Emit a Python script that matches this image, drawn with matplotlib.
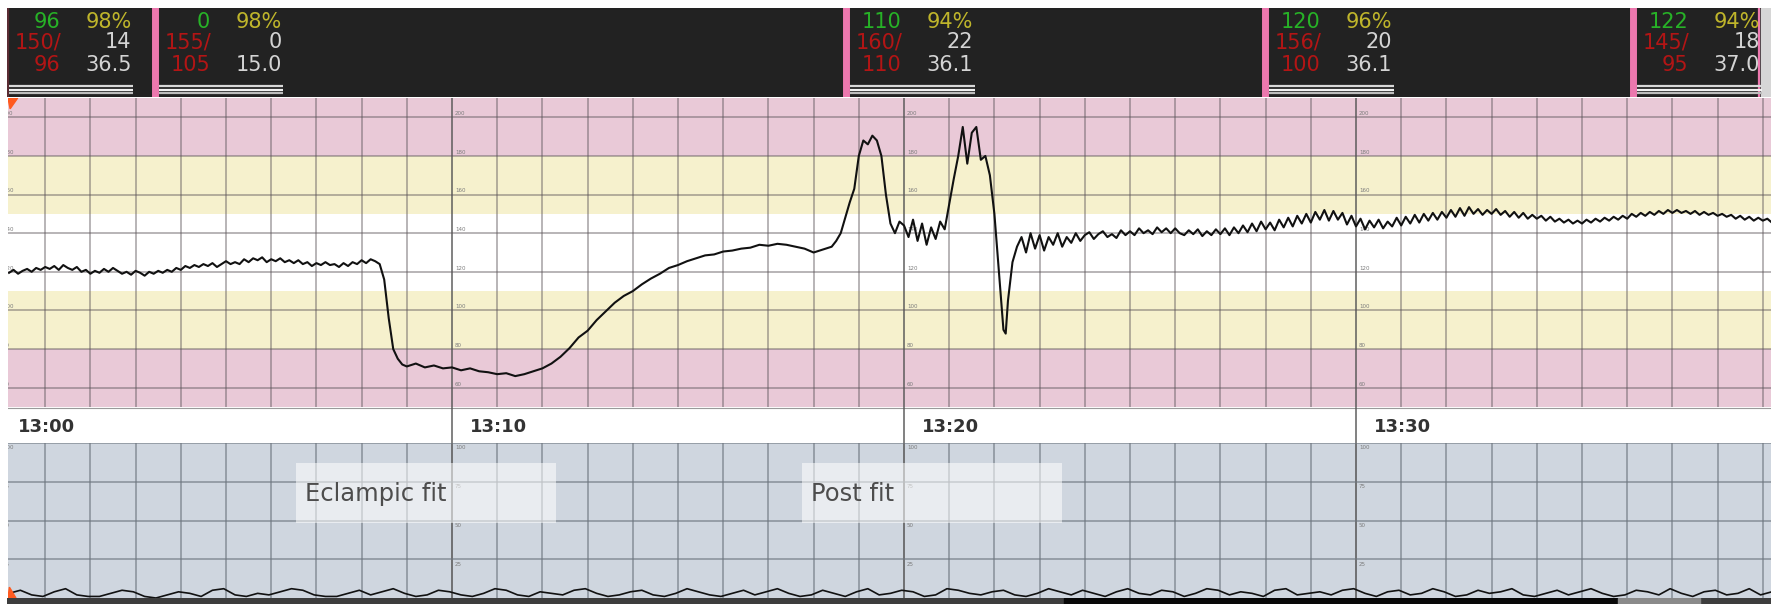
import numpy as np
import matplotlib
matplotlib.use("Agg")
import matplotlib.pyplot as plt
from matplotlib.patches import Rectangle, Polygon

# ---------------- data ----------------
# vital-sign snapshots (minutes after 13:00 where each block starts)
vital_times = [0.10, 3.42, 18.72, 27.99, 36.13]
vital_hr = ['96', '0', '110', '120', '122']
vital_spo2 = ['98%', '98%', '94%', '96%', '94%']
vital_sys = ['150/', '155/', '160/', '156/', '145/']
vital_rr = ['14', '0', '22', '20', '18']
vital_dia = ['96', '105', '110', '100', '95']
vital_temp = ['36.5', '15.0', '36.1', '36.1', '37.0']

time_ticks = [0, 10, 20, 30]
time_labels = ['13:00', '13:10', '13:20', '13:30']
fhr_ticks = [60, 80, 100, 120, 140, 160, 180, 200]
toco_ticks = [25, 50, 75, 100]

# fetal heart rate, part 1: sampled every 0.1 min from 0.2 min
fhr1_start, fhr1_step = 0.2, 0.1
fhr1_v = [119.5, 121.0, 119.0, 120.5, 121.5, 120.0, 122.0, 121.0, 122.5, 121.5,
          123.0, 121.0, 123.5, 122.0, 121.0, 122.5, 120.0, 121.0, 119.0, 120.5,
          119.5, 121.5, 120.0, 122.0, 120.5, 119.0, 120.0, 118.5, 120.5, 119.5,
          118.0, 120.0, 119.0, 120.5, 119.5, 121.0, 120.0, 122.0, 121.0, 123.0,
          122.0, 123.5, 122.5, 124.0, 123.0, 124.5, 122.5, 124.0, 125.5, 124.0,
          125.0, 124.0, 126.5, 125.0, 127.0, 126.0, 127.5, 125.0, 126.5, 125.5,
          127.0, 125.0, 126.0, 124.5, 126.0, 124.0, 125.0, 123.0, 124.5, 123.5,
          125.0, 123.5, 124.0, 122.5, 124.5, 123.0, 125.0, 124.0, 126.0, 124.5,
          126.5, 125.5]

# part 2: irregular samples around the fit (minutes, bpm)
fhr2_t = [8.4, 8.5, 8.6, 8.7, 8.8, 8.9, 9.0, 9.2, 9.4, 9.6, 9.8, 10.0, 10.2, 10.4, 10.6, 10.8, 11.0, 11.2,
          11.4, 11.6, 11.8, 12.0, 12.2, 12.4, 12.6, 12.8, 13.0, 13.2, 13.4, 13.6, 13.8, 14.0, 14.2, 14.4, 14.6, 14.8, 15.0, 15.2,
          15.4, 15.6, 15.8, 16.0, 16.2, 16.4, 16.6, 16.8, 17.0, 17.2, 17.4, 17.6, 17.8, 18.0, 18.2, 18.4, 18.5, 18.6, 18.7, 18.8,
          18.9, 19.0, 19.1, 19.2, 19.3, 19.4, 19.5, 19.6, 19.7, 19.8, 19.9, 20.0, 20.1, 20.2, 20.3, 20.4, 20.5, 20.6, 20.7, 20.8,
          20.9, 21.0, 21.1, 21.2, 21.3, 21.4, 21.5, 21.6, 21.7, 21.8, 21.9, 22.0, 22.1, 22.2, 22.25, 22.3, 22.4, 22.5, 22.6, 22.7,
          22.8, 22.9, 23.0, 23.1, 23.2, 23.3, 23.4, 23.5, 23.6, 23.7, 23.8, 23.9, 24.0]
fhr2_v = [124.0, 116.0, 96.0, 80.0, 75.0, 72.0, 71.0, 72.5, 70.5, 71.5, 70.0, 70.5, 69.0, 70.0, 68.5, 68.0, 67.0, 67.5,
          66.0, 67.0, 68.5, 70.0, 72.5, 76.0, 80.5, 86.0, 89.5, 95.0, 99.5, 104.0, 107.5, 110.0, 113.5, 116.5, 119.0, 122.0, 123.5, 125.5,
          127.0, 128.5, 129.0, 130.5, 131.0, 132.0, 132.5, 134.0, 133.5, 134.5, 134.0, 133.0, 132.0, 130.0, 131.5, 133.0, 136.0, 140.0, 148.0, 156.0,
          163.0, 180.0, 188.0, 186.0, 190.5, 188.0, 180.0, 160.0, 145.0, 140.0, 146.0, 144.0, 138.0, 147.0, 136.0, 145.0, 134.0, 143.0, 137.0, 146.0,
          142.0, 155.0, 168.0, 180.0, 195.0, 176.0, 192.0, 195.0, 178.0, 180.0, 170.0, 150.0, 120.0, 90.0, 88.0, 105.0, 125.0, 133.0, 138.0, 130.0,
          140.0, 132.0, 139.0, 131.0, 138.0, 134.0, 140.0, 133.0, 138.0, 135.0, 140.0, 136.0, 139.0]

# part 3: sampled every 0.1 min from 24.1 min
fhr3_start, fhr3_step = 24.1, 0.1
fhr3_v = [140.5, 137.0, 139.5, 141.0, 138.0, 139.5, 137.5, 141.5, 139.0, 141.0,
          139.0, 142.5, 140.0, 141.5, 139.5, 143.0, 140.5, 142.5, 140.0, 142.5,
          140.0, 139.0, 141.5, 139.5, 142.0, 138.5, 141.0, 139.0, 142.0, 139.5,
          142.5, 139.0, 143.0, 140.0, 144.0, 140.5, 145.0, 141.0, 146.0, 142.0,
          145.5, 141.5, 147.0, 143.0, 148.0, 143.5, 149.0, 145.0, 150.0, 145.5,
          151.0, 147.0, 152.0, 146.5, 151.5, 147.0, 150.5, 144.5, 149.0, 143.5,
          147.5, 142.0, 146.5, 143.0, 147.0, 142.5, 146.0, 143.5, 148.0, 144.0,
          148.5, 145.0, 149.5, 145.5, 150.0, 146.5, 150.5, 147.0, 151.0, 148.0,
          152.0, 148.5, 153.0, 149.0, 153.5, 150.0, 152.5, 149.5, 152.0, 150.0,
          152.5, 149.5, 151.5, 148.5, 151.0, 148.0, 150.5, 147.5, 149.5, 147.5,
          149.0, 146.5, 148.5, 146.0, 147.5, 145.5, 147.0, 145.0, 146.5, 145.0,
          147.0, 145.5, 147.5, 146.0, 148.0, 146.5, 148.5, 147.0, 149.0, 147.5,
          150.0, 148.5, 150.5, 149.0, 151.0, 149.5, 151.5, 150.0, 152.0, 150.5,
          152.0, 150.5, 151.5, 150.0, 151.5, 149.5, 151.0, 149.5, 150.5, 149.0,
          150.0, 148.5, 149.5, 147.5, 149.0, 147.0, 148.5, 146.5, 148.0, 146.5,
          147.5, 145.5]

# uterine activity (toco) trace, evenly sampled from 0.2 to 39.2 min
toco_v = [3, 5, 2, 1, 4, 6, 2, 1, 1, 3, 5, 4, 1, 0, 2, 4, 3, 1, 5, 6, 2, 1, 3, 2, 4, 6, 5, 2, 1, 1,
          3, 5, 2, 4, 6, 3, 1, 2, 5, 4, 2, 1, 3, 6, 5, 2, 1, 4, 3, 2, 5, 6, 3, 1, 2, 4, 5, 2, 1, 3,
          6, 4, 2, 1, 3, 5, 2, 4, 6, 3, 1, 2, 5, 3, 1, 4, 6, 2, 3, 5, 4, 1, 2, 6, 5, 3, 2, 4, 5, 2,
          1, 3, 6, 4, 2, 5, 3, 1, 4, 6, 3, 2, 5, 4, 1, 3, 6, 5, 2, 4, 3, 1, 5, 6, 2, 3, 4, 2, 5, 6,
          3, 1, 4, 5, 2, 3, 6, 4, 1, 2, 5, 3, 4, 6, 2, 1, 3, 5, 2, 4, 6, 3, 1, 2, 5, 4, 2, 6, 3, 1,
          4, 5, 2, 3, 6, 2, 4]

annot_text = ['Eclampic fit', 'Post fit']
annot_t0 = [6.55, 17.74]
annot_t1 = [12.30, 23.50]

# ---------------- layout ----------------
W, H, DPI = 1771, 604, 100
PPM = 45.2  # pixels per minute
fig = plt.figure(figsize=(W / DPI, H / DPI), dpi=DPI)
fig.patch.set_facecolor('white')


def axes_px(x0, y0, x1, y1):
    ax = fig.add_axes([x0 / W, 1 - y1 / H, (x1 - x0) / W, (y1 - y0) / H])
    ax.set_xlim(x0 / PPM, x1 / PPM)
    ax.set_xticks([]); ax.set_yticks([])
    for s in ax.spines.values():
        s.set_visible(False)
    return ax


def dx(px):
    return px / PPM


PINK = '#e9c9d7'
YEL = '#f6f1cd'
GRID = '#5b5358'
MAJ = '#555555'
LBL = '#7c7c7c'
minutes = np.arange(1, 40)

fhr_t = np.concatenate([fhr1_start + fhr1_step * np.arange(len(fhr1_v)),
                        np.array(fhr2_t),
                        fhr3_start + fhr3_step * np.arange(len(fhr3_v))])
fhr_v = np.concatenate([fhr1_v, fhr2_v, fhr3_v])

# ---- top vitals panel ----
axv = axes_px(7, 8, 1771, 97)
axv.set_facecolor('#222222')
axv.set_ylim(97, 8)
axv.axvline(dx(8), color='#5a2c33', lw=1.6)
axv.add_patch(Rectangle((dx(1761), 8), dx(10), 89, color='#d6d6d6', zorder=1))
axv.axvline(dx(1759), color='#ec78ae', lw=1.6)
for i, t in enumerate(vital_times):
    if i > 0:
        axv.axvline(t, color='#ec78ae', lw=5.0)
    lx = t + dx(55.5)
    rx = t + dx(127)
    kw = dict(fontsize=15, va='center', family='DejaVu Sans')
    axv.text(lx, 22, vital_hr[i], color='#27b227', ha='right', **kw)
    axv.text(rx, 22, vital_spo2[i], color='#bfb52b', ha='right', **kw)
    axv.text(t + dx(10), 42.5, vital_sys[i], color='#b31515', ha='left', **kw)
    axv.text(rx, 42.5, vital_rr[i], color='#d4d4d4', ha='right', **kw)
    axv.text(lx, 65, vital_dia[i], color='#b31515', ha='right', **kw)
    axv.text(rx, 65, vital_temp[i], color='#d4d4d4', ha='right', **kw)
    for yy, c in zip([86.3, 89.8, 93.3], ['#d9d9d9', '#f2f2f2', '#bdbdbd']):
        axv.plot([t + dx(4), t + dx(128.5)], [yy, yy], color=c, lw=1.6, solid_capstyle='butt')

# ---- FHR panel ----
axf = axes_px(8, 98, 1771, 407)
axf.set_ylim(50, 210)
for lo, hi, c in [(50, 80, PINK), (80, 110, YEL), (110, 150, 'white'), (150, 180, YEL), (180, 210, PINK)]:
    axf.axhspan(lo, hi, color=c, lw=0, zorder=0)
for m in minutes:
    if m % 10:
        axf.axvline(m, color=GRID, lw=1.1, alpha=0.55, zorder=1)
for m in time_ticks:
    axf.axvline(m, color=MAJ, lw=1.3, alpha=0.8, zorder=1)
for v in fhr_ticks:
    axf.axhline(v, color=GRID, lw=1.1, alpha=0.55, zorder=1)
for m in time_ticks:
    for v in fhr_ticks:
        axf.text(m + dx(3), v + 0.6, str(v), fontsize=4, color=LBL, va='bottom', ha='left', clip_on=True)
axf.plot(fhr_t, fhr_v, color='#111111', lw=1.5, zorder=3)
axf.add_patch(Polygon([[0, 1], [0.0055, 1], [0.0012, 0.965]], closed=True, transform=axf.transAxes,
                      color='#ff5a1f', zorder=4))

# ---- time band ----
axt = axes_px(8, 407, 1771, 443)
axt.set_ylim(443, 407)
axt.set_facecolor('white')
axt.axhline(407.5, color='#9a9a9a', lw=0.8)
for m, lab in zip(time_ticks, time_labels):
    axt.axvline(m, color=MAJ, lw=1.3, alpha=0.8)
    axt.text(m + dx(18), 426.5, lab, fontsize=13, fontweight='bold', color='#333333',
             ha='left', va='center', family='DejaVu Sans')

# ---- toco panel ----
axc = axes_px(8, 443, 1771, 598)
axc.set_ylim(0, 100)
axc.set_facecolor('#cfd6df')
for m in minutes:
    if m % 10:
        axc.axvline(m, color='#6f7780', lw=1.1, alpha=0.75, zorder=1)
for m in time_ticks:
    axc.axvline(m, color=MAJ, lw=1.3, alpha=0.85, zorder=1)
for v in toco_ticks:
    axc.axhline(v, color='#6f7780', lw=1.1, alpha=0.75, zorder=1)
for m in time_ticks:
    for v in toco_ticks:
        axc.text(m + dx(3), v - 1.5, str(v), fontsize=4, color=LBL, va='top', ha='left', clip_on=True)
toco_t = np.linspace(0.2, 39.2, len(toco_v))
axc.plot(toco_t, toco_v, color='#111111', lw=1.2, zorder=3)
axc.add_patch(Polygon([[0, 0], [0.0045, 0], [0.0008, 0.07]], closed=True, transform=axc.transAxes,
                      color='#ff5a1f', zorder=4))
for txt, t0, t1 in zip(annot_text, annot_t0, annot_t1):
    axc.add_patch(Rectangle((t0, 48.5), t1 - t0, 38.5, facecolor='white', alpha=0.55, lw=0, zorder=4))
    axc.text(t0 + dx(9), 67, txt, fontsize=17.5, color='#4d4d4d', ha='left', va='center',
             family='DejaVu Sans', zorder=5)

# ---- bottom bar ----
axb = axes_px(7, 598, 1771, 604)
axb.set_ylim(0, 1)
axb.set_facecolor('#3d3d3d')
axb.axvspan(23.55, 35.8, color='#080808')
axb.axvspan(35.8, 37.6, color='#8a8a8a')

fig.savefig('out.png', dpi=DPI, facecolor='white')
